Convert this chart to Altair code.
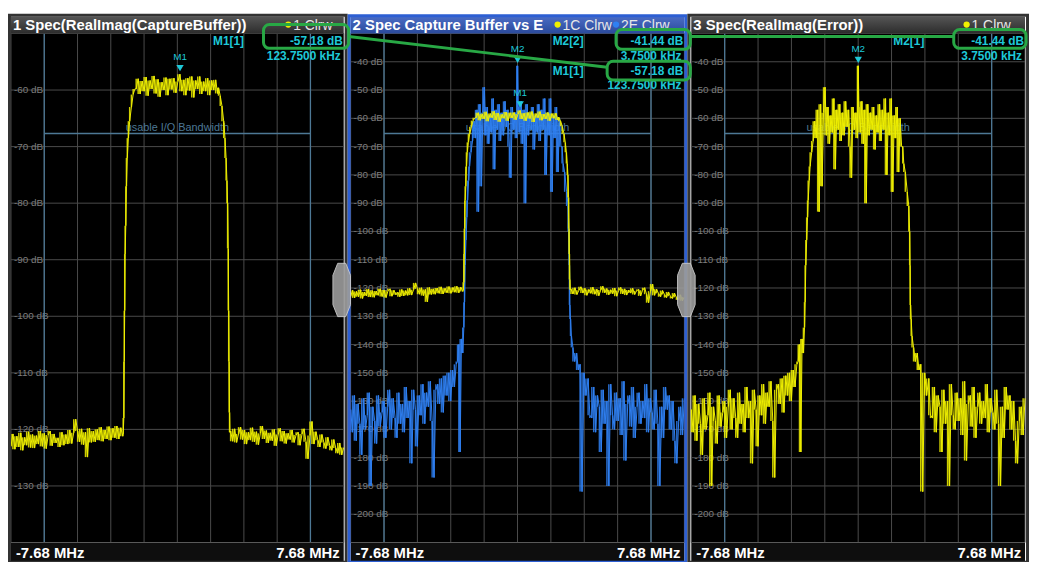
import altair as alt
import numpy as np
import pandas as pd

FONT = "Liberation Sans"
YELLOW = "#f0f000"
BLUE = "#2f80f2"
CYAN = "#1ec8d8"
GRID = "#4b4b4b"
BWCOL = "#4d7895"
GREEN = "#28a845"
LABEL = "#7d7d7d"

# ---------------- data ----------------
SPAN = [-7.68, 7.68]
x_labels = ["-7.68 MHz", "7.68 MHz"]
x_grid = [-7.68, -6.144, -4.608, -3.072, -1.536, 0.0, 1.536, 3.072, 4.608, 6.144, 7.68]
usable_bw = [-6.144, 6.144]
bw_label = "usable I/Q Bandwidth"

y_grid_1 = [-50, -60, -70, -80, -90, -100, -110, -120, -130, -140]
y_ticks_1 = [-60, -70, -80, -90, -100, -110, -120, -130]
y_grid_23 = [-30, -40, -50, -60, -70, -80, -90, -100, -110, -120, -130, -140,
             -150, -160, -170, -180, -190, -200, -210]
y_ticks_23 = [-40, -50, -60, -70, -80, -90, -100, -110, -120, -130, -140,
              -150, -160, -170, -180, -190, -200]

titles = ["1 Spec(RealImag(CaptureBuffer))", "2 Spec Capture Buffer vs E", "3 Spec(RealImag(Error))"]

# Capture buffer spectrum (trace 1 / 1C), dB
cap_left_db = [-123.0, -120.8, -123.5, -121.2, -123.1, -120.6, -123.7, -121.4, -122.8, -120.4,
               -123.2, -120.9, -123.3, -121.1, -122.6, -120.3, -123.0, -120.7, -123.4, -121.0,
               -120.3, -122.9, -120.8, -122.4, -121.5, -123.1, -120.5, -122.8, -120.9, -122.6,
               -120.1, -122.5, -120.6, -118.2, -120.3, -122.2, -119.9, -122.7, -120.5, -124.9,
               -119.8, -122.3, -120.3, -122.2, -120.0, -121.9, -119.6, -122.1, -120.1, -121.7,
               -119.5, -121.9, -119.8, -121.5, -119.4, -121.7, -119.7, -121.2]
cap_rise_f = [-2.50, -2.47, -2.45, -2.43, -2.41, -2.38, -2.35, -2.31, -2.26, -2.20, -2.12, -2.04, -1.96]
cap_rise_db = [-120.8, -118.0, -108.0, -99.0, -89.0, -84.0, -77.0, -72.0, -68.5, -65.5, -63.0, -60.8, -59.8]
cap_top_db = [-59.8, -58.0, -60.7, -58.4, -60.2, -57.7, -61.0, -58.3, -59.8, -57.5,
              -60.6, -58.1, -61.2, -58.6, -60.0, -57.8, -60.9, -58.0, -59.9, -57.9,
              -60.5, -58.5, -57.2, -60.2, -58.2, -60.9, -57.9, -60.1, -57.6, -61.3,
              -58.3, -59.8, -57.6, -60.7, -58.5, -60.2, -57.9, -60.9, -58.3, -60.0,
              -58.2, -60.6]
cap_fall_f = [1.90, 1.98, 2.06, 2.14, 2.20, 2.25, 2.29, 2.32, 2.35, 2.37, 2.39, 2.41, 2.43]
cap_fall_db = [-59.6, -61.0, -62.8, -65.5, -68.5, -72.0, -76.0, -80.0, -88.0, -99.0, -108.0, -117.0, -120.5]
cap_right_db = [-120.3, -122.1, -119.9, -122.3, -120.8, -119.6, -121.8, -120.1, -122.6, -120.5,
                -121.9, -119.7, -122.2, -120.4, -122.7, -120.7, -119.4, -121.7, -120.2, -122.4,
                -120.6, -122.0, -120.0, -122.9, -120.9, -119.8, -122.1, -120.3, -122.5, -120.7,
                -121.8, -120.1, -122.3, -121.0, -120.5, -122.8, -120.8, -119.9, -122.2, -125.2,
                -121.1, -118.6, -122.6, -120.4, -121.9, -123.1, -120.9, -122.3, -123.4, -121.4,
                -122.9, -123.7, -121.8, -123.3, -124.2, -122.4, -124.5, -123.2]

# Error spectrum (trace 2E / 1), dB
err_left_db = [-163, -171, -158, -174, -161, -168, -179, -159, -170, -165,
               -157, -190, -162, -167, -175, -158, -169, -164, -160, -173,
               -162, -156, -170, -159, -166, -173, -157, -168, -161, -171,
               -155, -166, -160, -182, -156, -163, -176, -158, -165, -154,
               -168, -157, -162, -153, -167, -187, -156, -154, -161, -152,
               -164, -151, -158, -150, -160, -149, -155, -147]
err_rise_f = [-2.76, -2.70, -2.64, -2.58, -2.52, -2.47, -2.44, -2.41, -2.37, -2.33, -2.30, -2.25, -2.21, -2.14, -2.07]
err_rise_db = [-146, -140, -178, -138, -143, -134, -125, -112, -103, -95, -89, -82, -77, -72, -68]
err_band_db = [-61, -67, -57, -93, -55, -84, -58, -49, -66, -56,
               -69, -59, -65, -53, -78, -57, -64, -55, -68, -58,
               -66, -54, -63, -57, -70, -81, -56, -64, -58, -67,
               -56, -65, -54, -69, -57, -90, -55, -66, -58, -64,
               -56, -71, -59, -65, -55, -68, -57, -64, -53, -80,
               -58, -66, -53, -86, -59, -67, -56, -79, -60, -70]
err_spike_f = [0.00375]
err_spike_db = [-41.44]
err_fall_f = [2.05, 2.10, 2.17, 2.26, 2.33, 2.37, 2.39, 2.41, 2.44, 2.48, 2.55, 2.63, 2.72, 2.80, 2.88, 2.97, 3.06, 3.15, 3.25, 3.33]
err_fall_db = [-70, -76, -79, -86, -91, -100, -112, -126, -131, -137, -141, -146, -143, -149, -147, -192, -150, -158, -152, -165]
err_right_db = [-166, -155, -171, -158, -162, -178, -156, -168, -160, -190,
                -154, -165, -170, -157, -167, -159, -172, -153, -181, -161,
                -158, -169, -155, -173, -162, -157, -168, -160, -166, -154,
                -171, -159, -164, -170, -156, -168, -190, -162, -173, -155,
                -163, -158, -170, -160, -174, -182, -167, -162, -172, -159]

# markers: (name, freq MHz, level dB)
markers_1 = [("M1", 0.12375, -57.18)]
markers_2 = [("M2", 0.00375, -41.44), ("M1", 0.12375, -57.18)]
markers_3 = [("M2", 0.00375, -41.44)]
info_1 = [("M1[1]", "-57.18 dB", "123.7500 kHz")]
info_2 = [("M2[2]", "-41.44 dB", "3.7500 kHz"), ("M1[1]", "-57.18 dB", "123.7500 kHz")]
info_3 = [("M2[1]", "-41.44 dB", "3.7500 kHz")]
legend_1 = [("1 Clrw", YELLOW)]
legend_2 = [("1C Clrw", YELLOW), ("2E Clrw", BLUE)]
legend_3 = [("1 Clrw", YELLOW)]


def bins(start, stop, vals):
    return list(np.linspace(start, stop, len(vals)))


def trace_frame(f, db):
    df = pd.DataFrame({"f": f, "db": db}).sort_values("f").reset_index(drop=True)
    # peak-detector style display: each display column spans to the next sample
    df["db2"] = df["db"].shift(-1).fillna(df["db"])
    return df


capture = trace_frame(
    bins(-7.68, -2.52, cap_left_db) + cap_rise_f + bins(-1.90, 1.86, cap_top_db)
    + cap_fall_f + bins(2.46, 7.68, cap_right_db),
    cap_left_db + cap_rise_db + cap_top_db + cap_fall_db + cap_right_db)
error = trace_frame(
    bins(-7.68, -2.82, err_left_db) + err_rise_f + bins(-2.0, 2.0, err_band_db)
    + err_spike_f + err_fall_f + bins(3.42, 7.68, err_right_db),
    err_left_db + err_rise_db + err_band_db + err_spike_db + err_fall_db + err_right_db)

# ---------------- layout ----------------
H = 514
ONE = pd.DataFrame({"k": [0]})


def grad(c0, c1):
    return alt.Gradient(gradient="linear",
                        stops=[alt.GradientStop(color=c0, offset=0), alt.GradientStop(color=c1, offset=1)],
                        x1=0, x2=0, y1=0, y2=1)


def vtext(txt, x, y, align="left", size=12, color="white", weight="normal", baseline="alphabetic"):
    return alt.Chart(ONE).mark_text(text=txt, align=align, baseline=baseline, font=FONT, fontSize=size,
                                    fontWeight=weight, color=color).encode(x=alt.value(x), y=alt.value(y))


def box(x0, x1, y0, y1):
    return alt.Chart(ONE).mark_rect(fill="transparent", stroke=GREEN, strokeWidth=3, cornerRadius=6).encode(
        x=alt.value(x0), x2=alt.value(x1), y=alt.value(y0), y2=alt.value(y1))


def gline(x0, y0, x1, y1):
    return alt.Chart(ONE).mark_rule(color=GREEN, strokeWidth=3).encode(
        x=alt.value(x0), x2=alt.value(x1), y=alt.value(y0), y2=alt.value(y1))


TAB_PATH = "M-0.15,-1L0.15,-1L0.33,-0.55L0.33,0.55L0.15,1L-0.15,1L-0.33,0.55L-0.33,-0.55Z"


def tab(x, y):
    return alt.Chart(ONE).mark_point(shape=TAB_PATH, filled=True, size=2900, color="#9c9c9c",
                                     opacity=0.9, stroke="#d0d0d0", strokeWidth=1).encode(
        x=alt.value(x), y=alt.value(y))


def panel(W, ydom, ygrid, yticks, traces, markers, info, title, legend, legend_x, selected, extra):
    xs = alt.Scale(domain=SPAN, nice=False, zero=False)
    ys = alt.Scale(domain=ydom, nice=False, zero=False)

    def X(f):
        return alt.X(f"{f}:Q", scale=xs, axis=None)

    def Y(f):
        return alt.Y(f"{f}:Q", scale=ys, axis=None)

    L = []
    L.append(alt.Chart(pd.DataFrame({"f": x_grid})).mark_rule(color=GRID, strokeWidth=1).encode(
        x=X("f"), y=alt.value(0), y2=alt.value(H)))
    L.append(alt.Chart(pd.DataFrame({"db": ygrid})).mark_rule(color=GRID, strokeWidth=1).encode(
        y=Y("db"), x=alt.value(0), x2=alt.value(W)))
    L.append(alt.Chart(pd.DataFrame({"db": yticks, "t": [f"{v} dB" for v in yticks]})).mark_text(
        align="left", baseline="middle", font=FONT, fontSize=10, color=LABEL).encode(
        x=alt.value(3), y=Y("db"), text="t:N"))
    # usable I/Q bandwidth
    L.append(alt.Chart(pd.DataFrame({"f": usable_bw})).mark_rule(color=BWCOL, strokeWidth=1.3).encode(
        x=X("f"), y=alt.value(0), y2=alt.value(H)))
    L.append(alt.Chart(pd.DataFrame({"a": [usable_bw[0]], "b": [usable_bw[1]]})).mark_rule(
        color=BWCOL, strokeWidth=1.3).encode(x=X("a"), x2="b:Q", y=alt.value(101)))
    L.append(alt.Chart(pd.DataFrame({"f": [0.0], "t": [bw_label]})).mark_text(
        font=FONT, fontSize=11, color=BWCOL, baseline="alphabetic").encode(
        x=X("f"), y=alt.value(98), text="t:N"))
    # traces
    for df, col in traces:
        L.append(alt.Chart(df).mark_rule(color=col, strokeWidth=1.5, opacity=0.85).encode(
            x=X("f"), y=Y("db"), y2="db2:Q"))
        L.append(alt.Chart(df).mark_line(color=col, strokeWidth=1).encode(x=X("f"), y=Y("db")))
    # markers
    mk = pd.DataFrame(markers, columns=["name", "f", "db"])
    L.append(alt.Chart(mk).mark_point(shape="triangle-down", filled=True, size=55, color=CYAN,
                                      opacity=1, yOffset=-6).encode(x=X("f"), y=Y("db")))
    L.append(alt.Chart(mk).mark_text(font=FONT, fontSize=10, color=CYAN, dy=-17).encode(
        x=X("f"), y=Y("db"), text="name:N"))
    # marker table
    for k, (lab, val, fr) in enumerate(info):
        y0 = 12 + 30 * k
        L.append(vtext(lab, 204, y0, "left", 12, CYAN, "bold"))
        L.append(vtext(val, W - 1, y0, "right", 12, CYAN, "bold"))
        L.append(vtext(fr, W - 3, y0 + 14.5, "right", 12, CYAN, "bold"))
    # title bar
    c0, c1 = ("#4b6cc4", "#2a4a9c") if selected else ("#555555", "#2c2c2c")
    L.append(alt.Chart(ONE).mark_rect(color=grad(c0, c1)).encode(
        x=alt.value(0), x2=alt.value(W), y=alt.value(-17), y2=alt.value(0)))
    L.append(vtext(title, 2, -4, "left", 15, "white", "bold"))
    lx = legend_x
    for txt, col in legend:
        L.append(alt.Chart(ONE).mark_point(shape="circle", filled=True, size=40, color=col, opacity=1).encode(
            x=alt.value(lx), y=alt.value(-9)))
        L.append(vtext(txt, lx + 5, -4, "left", 14, "#e8e8e8"))
        lx += 59
    # bottom strip
    L.append(alt.Chart(ONE).mark_rect(color="#0e0e0e").encode(
        x=alt.value(0), x2=alt.value(W), y=alt.value(H), y2=alt.value(H + 19)))
    L.append(alt.Chart(ONE).mark_rule(color="#5a5a5a", strokeWidth=1).encode(
        x=alt.value(0), x2=alt.value(W), y=alt.value(H)))
    L.append(alt.Chart(pd.DataFrame({"f": [SPAN[0]], "t": [x_labels[0]]})).mark_text(
        align="left", dx=5, baseline="alphabetic", font=FONT, fontSize=15, fontWeight="bold",
        color="white").encode(x=X("f"), y=alt.value(H + 15.5), text="t:N"))
    L.append(alt.Chart(pd.DataFrame({"f": [SPAN[1]], "t": [x_labels[1]]})).mark_text(
        align="right", dx=-4, baseline="alphabetic", font=FONT, fontSize=15, fontWeight="bold",
        color="white").encode(x=X("f"), y=alt.value(H + 15.5), text="t:N"))
    # frame (dark outline filling the gap between panels; blue for the selected one)
    if selected:
        L.append(alt.Chart(ONE).mark_rect(fill="transparent", stroke="#2d5fd3", strokeWidth=3).encode(
            x=alt.value(-1.5), x2=alt.value(W + 1.5), y=alt.value(-18), y2=alt.value(H + 20)))
    else:
        L.append(alt.Chart(ONE).mark_rect(fill="transparent", stroke="#333333", strokeWidth=3).encode(
            x=alt.value(-2.5 if legend_x != 280 else -1.5), x2=alt.value(W + 2.5),
            y=alt.value(-18.5), y2=alt.value(H + 20)))
    L.extend(extra)
    return alt.layer(*L).properties(width=W, height=H)


p1 = panel(336, [-140, -50], y_grid_1, y_ticks_1, [(capture, YELLOW)], markers_1, info_1,
           titles[0], legend_1, 280, False, [])
p2 = panel(337, [-210, -30], y_grid_23, y_ticks_23,
           [(error, BLUE), (capture, YELLOW)], markers_2, info_2,
           titles[1], legend_2, 209, True,
           [tab(-9, 259), box(-88, -2, -9, 15), gline(-2, 3, 259, 34)])
p3 = panel(337, [-210, -30], y_grid_23, y_ticks_23, [(error, YELLOW)], markers_3, info_3,
           titles[2], legend_3, 278, False,
           [tab(-5, 259), box(-76, -1, -4, 16), box(-85, -1, 28, 47), gline(-1, 3, 265, 3), box(265, 338, -4, 15)])

chart = alt.hconcat(p1, p2, p3, spacing=7, bounds="flush").properties(
    padding={"left": 0, "top": 3, "right": 0, "bottom": 0}, background="white"
).configure_view(fill="black", stroke=None)

chart.save("out.html", embed_options={"renderer": "svg", "actions": False})
